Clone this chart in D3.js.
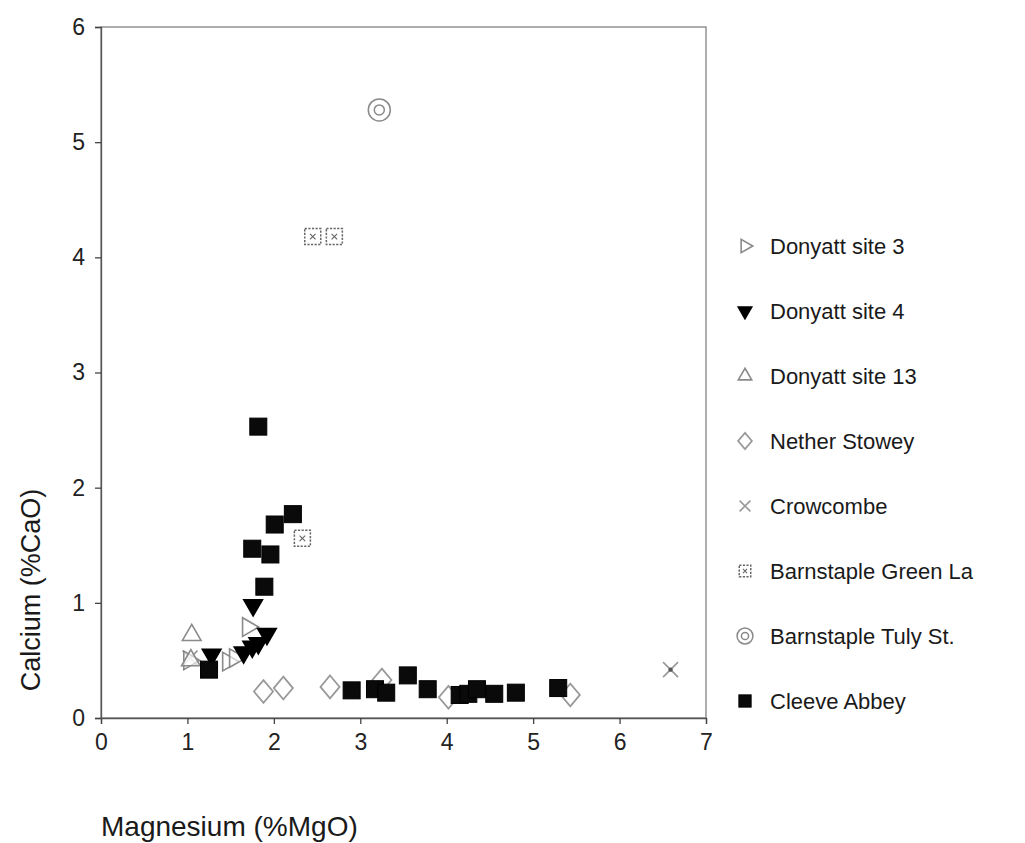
<!DOCTYPE html>
<html>
<head>
<meta charset="utf-8">
<script src="https://cdn.jsdelivr.net/npm/d3@7"></script>
<style>
  body { margin: 0; background: #fff; }
  svg { font-family: "Liberation Sans", Arial, sans-serif; }
</style>
</head>
<body>
<div id="chart"></div>
<script>
// data, [MgO, CaO]
var donyatt3 = [[1.02, 0.50], [1.47, 0.49], [1.55, 0.52], [1.70, 0.79]];
var donyatt4 = [[1.28, 0.55], [1.65, 0.57], [1.75, 0.62], [1.82, 0.65], [1.92, 0.73], [1.76, 0.98]];
var donyatt13 = [[1.05, 0.72], [1.04, 0.50]];
var netherStowey = [[1.88, 0.23], [2.11, 0.26], [2.65, 0.27], [3.25, 0.33], [4.02, 0.18], [5.43, 0.20]];
var crowcombe = [[1.03, 0.52], [6.59, 0.42]];
var greenLa = [[2.45, 4.18], [2.70, 4.18], [2.33, 1.56]];
var tulySt = [[3.22, 5.28]];
var cleeve = [[1.82, 2.53], [2.22, 1.77], [2.01, 1.68], [1.75, 1.47], [1.96, 1.42], [1.89, 1.14],
              [1.25, 0.42], [2.90, 0.24], [3.17, 0.25], [3.30, 0.22], [3.55, 0.37], [3.78, 0.25],
              [4.15, 0.20], [4.25, 0.21], [4.35, 0.25], [4.55, 0.21], [4.80, 0.22], [5.29, 0.26]];

var xTicks = [0, 1, 2, 3, 4, 5, 6, 7];
var yTicks = [0, 1, 2, 3, 4, 5, 6];

var series = [
  {name: "Donyatt site 3", data: donyatt3, kind: "triRight"},
  {name: "Donyatt site 4", data: donyatt4, kind: "triDown"},
  {name: "Donyatt site 13", data: donyatt13, kind: "triUp"},
  {name: "Nether Stowey", data: netherStowey, kind: "diamond"},
  {name: "Crowcombe", data: crowcombe, kind: "cross"},
  {name: "Barnstaple Green La", data: greenLa, kind: "boxX"},
  {name: "Barnstaple Tuly St.", data: tulySt, kind: "ring"},
  {name: "Cleeve Abbey", data: cleeve, kind: "square"}
];

var width = 1025, height = 843;
var margin = {left: 101, top: 27, right: 319, bottom: 125};
var plotW = width - margin.left - margin.right;
var plotH = height - margin.top - margin.bottom;

var svg = d3.select("#chart").append("svg")
    .attr("width", width)
    .attr("height", height);

var x = d3.scaleLinear().domain([0, 7]).range([margin.left, margin.left + plotW]);
var y = d3.scaleLinear().domain([0, 6]).range([margin.top + plotH, margin.top]);

var grey = "#8a8a8a";

// draw one marker into group g, s = scale factor
function drawMarker(g, kind, s) {
  if (kind === "triRight" || kind === "triDown" || kind === "triUp") {
    var rot = kind === "triRight" ? 90 : (kind === "triDown" ? 180 : 0);
    var filled = kind === "triDown";
    g.append("path")
        .attr("d", d3.symbol().type(d3.symbolTriangle).size(150 * s * s)())
        .attr("transform", "rotate(" + rot + ")")
        .attr("fill", filled ? "#000" : "#fff")
        .attr("fill-opacity", filled ? 1 : 0.6)
        .attr("stroke", filled ? "#000" : grey)
        .attr("stroke-width", 1.6);
  } else if (kind === "diamond") {
    g.append("path")
        .attr("d", d3.symbol().type(d3.symbolDiamond).size(150 * s * s)())
        .attr("transform", "scale(1.45,1)")
        .attr("fill", "#fff")
        .attr("fill-opacity", 0.6)
        .attr("stroke", "#999")
        .attr("stroke-width", 1.4);
  } else if (kind === "cross") {
    var c = 7.5 * s;
    g.append("path")
        .attr("d", "M" + (-c) + "," + (-c) + "L" + c + "," + c + "M" + (-c) + "," + c + "L" + c + "," + (-c))
        .attr("stroke", "#999")
        .attr("stroke-width", 1.6);
  } else if (kind === "boxX") {
    var b = 8 * s, k = 2.8 * s;
    g.append("rect")
        .attr("x", -b).attr("y", -b).attr("width", 2 * b).attr("height", 2 * b)
        .attr("fill", "#fff")
        .attr("stroke", "#666")
        .attr("stroke-dasharray", "2.2,1.4")
        .attr("stroke-width", 1.5);
    g.append("path")
        .attr("d", "M" + (-k) + "," + (-k) + "L" + k + "," + k + "M" + (-k) + "," + k + "L" + k + "," + (-k))
        .attr("stroke", "#666")
        .attr("stroke-width", 1.1);
  } else if (kind === "ring") {
    g.append("circle").attr("r", 11 * s)
        .attr("fill", "none").attr("stroke", grey).attr("stroke-width", 1.5);
    g.append("circle").attr("r", 5 * s)
        .attr("fill", "none").attr("stroke", grey).attr("stroke-width", 1.5);
  } else if (kind === "square") {
    var q = 8.5 * s;
    g.append("rect")
        .attr("x", -q).attr("y", -q).attr("width", 2 * q).attr("height", 2 * q)
        .attr("fill", "#0a0a0a")
        .attr("stroke", "#000")
        .attr("stroke-width", 1);
  }
}

// frame
svg.append("rect")
    .attr("x", margin.left).attr("y", margin.top)
    .attr("width", plotW).attr("height", plotH)
    .attr("fill", "none")
    .attr("stroke", "#777")
    .attr("stroke-width", 1.2);

// axes
var xAxis = svg.append("g")
    .attr("transform", "translate(0," + (margin.top + plotH) + ")")
    .call(d3.axisBottom(x).tickValues(xTicks).tickSize(6).tickPadding(10).tickFormat(d3.format("d")));
var yAxis = svg.append("g")
    .attr("transform", "translate(" + margin.left + ",0)")
    .call(d3.axisLeft(y).tickValues(yTicks).tickSize(6).tickPadding(10).tickFormat(d3.format("d")));

[xAxis, yAxis].forEach(function (a) {
  a.select(".domain").attr("stroke", "#555").attr("stroke-width", 1.3);
  a.selectAll(".tick line").attr("stroke", "#444").attr("stroke-width", 1.3);
  a.selectAll(".tick text")
      .attr("font-size", 23)
      .attr("fill", "#222")
      .attr("font-family", "Liberation Sans, Arial, sans-serif");
});

// points, Cleeve last so it sits on top as in the picture
var order = [3, 4, 5, 6, 0, 2, 1, 7];
order.forEach(function (i) {
  var sr = series[i];
  svg.append("g").attr("class", "series")
    .selectAll("g")
    .data(sr.data)
    .enter().append("g")
      .attr("transform", function (d) {
        return "translate(" + x(d[0]) + "," + y(d[1]) + ")";
      })
      .each(function () {
        drawMarker(d3.select(this), sr.kind, 1);
      });
});

// crowcombe point on the right has a small dot in its middle
svg.append("circle")
    .attr("cx", x(crowcombe[1][0])).attr("cy", y(crowcombe[1][1]))
    .attr("r", 2.2).attr("fill", "#555");

// legend
var legend = svg.append("g").attr("transform", "translate(745,246)");
series.forEach(function (sr, i) {
  var row = legend.append("g").attr("transform", "translate(0," + (i * 65) + ")");
  drawMarker(row.append("g"), sr.kind, 0.72);
  row.append("text")
      .attr("x", 25)
      .attr("y", 8)
      .attr("font-size", 22)
      .attr("fill", "#1a1a1a")
      .text(sr.name);
});

// axis titles
svg.append("text")
    .attr("transform", "translate(40,590) rotate(-90)")
    .attr("text-anchor", "middle")
    .attr("font-size", 27)
    .attr("fill", "#1a1a1a")
    .text("Calcium (%CaO)");

svg.append("text")
    .attr("x", 101)
    .attr("y", 836)
    .attr("font-size", 28)
    .attr("fill", "#1a1a1a")
    .text("Magnesium (%MgO)");
</script>
</body>
</html>
